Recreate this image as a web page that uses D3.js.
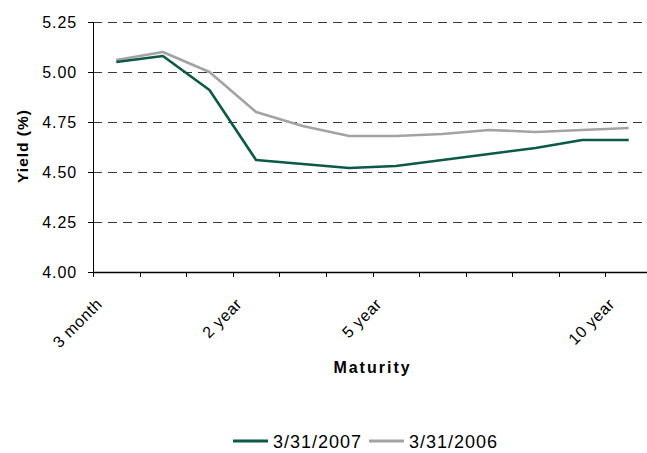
<!DOCTYPE html>
<html>
<head>
<meta charset="utf-8">
<script src="https://cdn.jsdelivr.net/npm/d3@7"></script>
<style>
  html, body { margin: 0; padding: 0; background: #fff; }
  svg { display: block; font-family: "Liberation Sans", Arial, sans-serif; }
</style>
</head>
<body>
<svg id="chart" width="647" height="453"></svg>
<script>
const categories = ["3 month", "6 month", "1 year", "2 year", "3 year", "4 year", "5 year", "6 year", "7 year", "8 year", "9 year", "10 year"];
const tickLabels = ["3 month", "", "", "2 year", "", "", "5 year", "", "", "", "", "10 year"];
const series2007 = [5.05, 5.08, 4.91, 4.56, 4.54, 4.52, 4.53, 4.56, 4.59, 4.62, 4.66, 4.66];
const series2006 = [5.06, 5.10, 5.00, 4.80, 4.73, 4.68, 4.68, 4.69, 4.71, 4.70, 4.71, 4.72];
const yTicks = [4.00, 4.25, 4.50, 4.75, 5.00, 5.25];
const seriesNames = ["3/31/2007", "3/31/2006"];
const seriesColors = ["#0b5a47", "#a3a3a3"];

(function () {
const svg = d3.select("#chart");
const pLeft = 93, pRight = 652, pTop = 22, pBottom = 272;

const x = d3.scaleBand().domain(categories).range([pLeft, pRight]).padding(0);
const xb = d3.scaleLinear().domain([0, categories.length]).range([pLeft, pRight]);
const y = d3.scaleLinear().domain([4, 5.25]).range([pBottom, pTop]);

// gridlines
svg.append("g").selectAll("line").data(yTicks.filter(v => v > 4)).join("line")
  .attr("x1", pLeft).attr("x2", pRight)
  .attr("y1", d => y(d)).attr("y2", d => y(d))
  .attr("stroke", "#3a3a3a").attr("stroke-width", 1)
  .attr("stroke-dasharray", "9,6").attr("shape-rendering", "crispEdges");

// y axis
const yAxis = svg.append("g").attr("transform", `translate(${pLeft},0)`)
  .call(d3.axisLeft(y).tickValues(yTicks).tickFormat(d3.format(".2f")).tickSize(5).tickPadding(11));
yAxis.select(".domain").attr("stroke", "#000").attr("shape-rendering", "crispEdges");
yAxis.selectAll(".tick line").attr("stroke", "#000").attr("shape-rendering", "crispEdges");
yAxis.selectAll("text").attr("font-size", 16).attr("letter-spacing", "0.9px")
  .attr("fill", "#000").attr("font-family", "Liberation Sans, Arial, sans-serif");

// x axis (boundary ticks)
const xAxis = svg.append("g").attr("transform", `translate(0,${pBottom})`)
  .call(d3.axisBottom(xb).tickValues(d3.range(categories.length + 1)).tickFormat("").tickSize(5).tickSizeOuter(0));
xAxis.select(".domain").attr("stroke", "#000").attr("stroke-width", 1.5);
xAxis.selectAll(".tick line").attr("stroke", "#000").attr("shape-rendering", "crispEdges");

// x labels
svg.append("g").selectAll("text").data(categories.map((c, i) => ({c, label: tickLabels[i]})).filter(d => d.label))
  .join("text")
  .attr("transform", d => `translate(${x(d.c) + x.bandwidth() / 2 - 13},305) rotate(-45)`)
  .attr("text-anchor", "end")
  .attr("font-size", 16).attr("letter-spacing", "0.6px").attr("fill", "#000")
  .text(d => d.label);

// lines
const line = d3.line().x((d, i) => x(categories[i]) + x.bandwidth() / 2).y(d => y(d));
[series2006, series2007].forEach((s, k) => {
  const idx = k === 0 ? 1 : 0;
  svg.append("path").datum(s).attr("d", line)
    .attr("fill", "none").attr("stroke", seriesColors[idx]).attr("stroke-width", 2.6)
    .attr("stroke-linejoin", "round");
});

// axis titles
svg.append("text").attr("transform", "translate(28,146) rotate(-90)")
  .attr("text-anchor", "middle").attr("font-size", 15.5).attr("font-weight", "bold")
  .attr("letter-spacing", "1px").attr("fill", "#000").text("Yield (%)");
svg.append("text").attr("x", (pLeft + pRight) / 2).attr("y", 373)
  .attr("text-anchor", "middle").attr("font-size", 16).attr("font-weight", "bold")
  .attr("letter-spacing", "2px").attr("fill", "#000").text("Maturity");

// legend
const legendItems = [{name: seriesNames[0], color: seriesColors[0], x0: 233}, {name: seriesNames[1], color: seriesColors[1], x0: 369}];
const lg = svg.append("g");
legendItems.forEach(d => {
  lg.append("line").attr("x1", d.x0).attr("x2", d.x0 + 35).attr("y1", 441).attr("y2", 441)
    .attr("stroke", d.color).attr("stroke-width", 3);
  lg.append("text").attr("x", d.x0 + 40).attr("y", 447.5)
    .attr("font-size", 18).attr("letter-spacing", "1px").attr("fill", "#000").text(d.name);
});
})();
</script>
</body>
</html>
